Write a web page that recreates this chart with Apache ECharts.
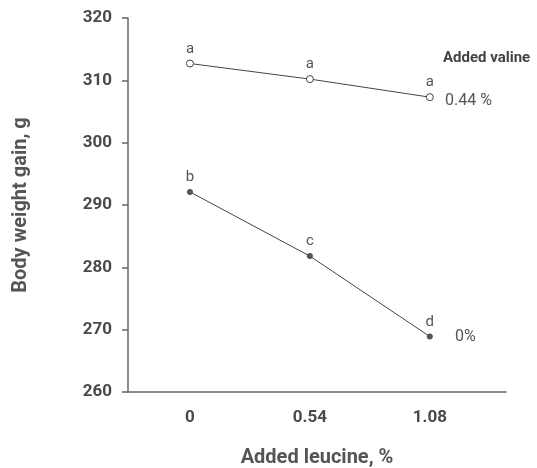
<!DOCTYPE html>
<html><head><meta charset="utf-8">
<script src="https://cdn.jsdelivr.net/npm/echarts@6/dist/echarts.min.js"></script>
<style>html,body{margin:0;padding:0;background:#fff}#c{width:537px;height:468px}</style>
</head><body><div id="c"></div>
<script>
const leucine = [0, 0.54, 1.08];
const valine044 = [312.7, 310.2, 307.3];
const valine0 = [292.1, 281.8, 268.9];
const letters044 = ['a', 'a', 'a'];
const letters0 = ['b', 'c', 'd'];
const yTicks = [260, 270, 280, 290, 300, 310, 320];

const chart = echarts.init(document.getElementById('c'));
const font = 'Roboto, "Noto Sans", sans-serif';
function pts(vals, letters) {
  return vals.map((v, i) => ({ value: [leucine[i], v], label: { formatter: letters[i] } }));
}
chart.setOption({
  animation: false,
  grid: { left: 128, top: 18, right: 31, bottom: 76, outerBoundsMode: 'none', containLabel: false },
  xAxis: {
    type: 'value', min: -0.279, max: 1.423,
    name: 'Added leucine, %', nameLocation: 'middle', nameGap: 56,
    nameTextStyle: { fontFamily: font, fontSize: 20, fontWeight: 'bold', color: '#555' },
    axisLine: { show: true, onZero: false, lineStyle: { color: '#666', width: 1.5 } },
    axisTick: { show: false },
    splitLine: { show: false },
    axisLabel: { customValues: leucine, formatter: v => String(v), fontFamily: font, fontSize: 17, fontWeight: 'bold', color: '#4a4a4a', margin: 17 }
  },
  yAxis: {
    type: 'value', min: 260, max: 320, interval: 10,
    name: 'Body weight gain, g', nameLocation: 'middle', nameGap: 97, nameRotate: 90,
    nameTextStyle: { fontFamily: font, fontSize: 20, fontWeight: 'bold', color: '#555' },
    axisLine: { show: true, onZero: false, lineStyle: { color: '#666', width: 1.5 } },
    axisTick: { show: true, length: 6, lineStyle: { color: '#666', width: 1.5 } },
    splitLine: { show: false },
    axisLabel: { fontFamily: font, fontSize: 17, fontWeight: 'bold', color: '#4a4a4a', margin: 16 }
  },
  series: [
    {
      type: 'line', data: pts(valine044, letters044),
      symbol: 'circle', symbolSize: 7,
      itemStyle: { color: '#fff', borderColor: '#444', borderWidth: 1 },
      lineStyle: { color: '#444', width: 1 },
      label: { show: true, position: 'top', distance: 3, fontFamily: font, fontSize: 15, color: '#555' }
    },
    {
      type: 'line', data: pts(valine0, letters0),
      symbol: 'circle', symbolSize: 6,
      itemStyle: { color: '#555', borderColor: '#555', borderWidth: 0 },
      lineStyle: { color: '#444', width: 1 },
      label: { show: true, position: 'top', distance: 4, fontFamily: font, fontSize: 15, color: '#555' }
    }
  ],
  graphic: [
    { type: 'text', left: 443, top: 51, style: { text: 'Added valine', font: 'bold 15px ' + font, fill: '#444' } },
    { type: 'text', left: 445, top: 93, style: { text: '0.44 %', font: '16px ' + font, fill: '#555' } },
    { type: 'text', left: 455, top: 329, style: { text: '0%', font: '16px ' + font, fill: '#555' } }
  ]
});
</script></body></html>
